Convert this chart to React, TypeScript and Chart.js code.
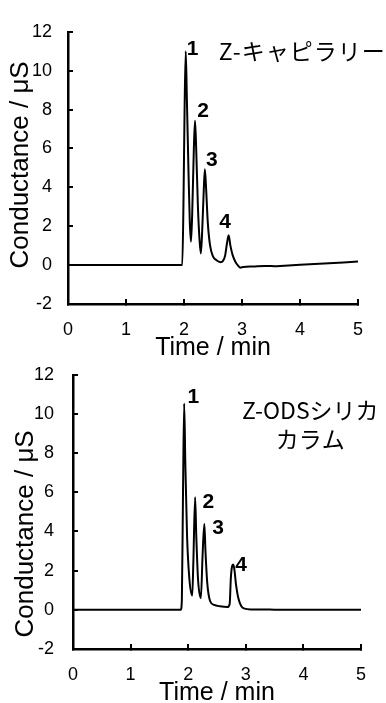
import React, { useEffect, useRef } from "react";
import { Chart, registerables } from "chart.js";

Chart.register(...registerables);

// ---------- data ----------
const X_TICKS = [0, 1, 2, 3, 4, 5];
const Y_TICKS = [-2, 0, 2, 4, 6, 8, 10, 12];
const X_TITLE = "Time / min";
const Y_TITLE = "Conductance / μS";

const topTime = [0, 1.0, 1.97, 1.99, 2.01, 2.03, 2.05, 2.08, 2.10, 2.12, 2.14, 2.17, 2.19, 2.21, 2.24, 2.27, 2.29, 2.31, 2.34, 2.36, 2.38, 2.41, 2.45, 2.50, 2.56, 2.63, 2.67, 2.71, 2.74, 2.77, 2.80, 2.84, 2.89, 2.94, 2.97, 3.02, 3.2, 3.4, 3.6, 3.8, 4.0, 4.5, 5.0];
const topCond = [0, 0, 0, 3.0, 8.0, 11.0, 8.5, 4.5, 2.2, 1.2, 2.5, 6.0, 7.42, 6.0, 3.0, 1.2, 0.6, 1.5, 3.8, 4.93, 4.0, 2.2, 1.0, 0.45, 0.25, 0.15, 0.2, 0.5, 1.1, 1.53, 1.0, 0.5, 0.15, -0.05, -0.13, -0.1, -0.07, -0.04, -0.06, -0.02, 0.02, 0.1, 0.18];

const bottomTime = [0, 1.0, 1.87, 1.89, 1.91, 1.93, 1.95, 1.98, 2.02, 2.07, 2.09, 2.12, 2.14, 2.17, 2.22, 2.25, 2.28, 2.30, 2.33, 2.38, 2.45, 2.55, 2.68, 2.72, 2.74, 2.76, 2.78, 2.80, 2.83, 2.87, 2.92, 2.98, 3.1, 3.5, 4.0, 5.0];
const bottomCond = [0, 0, 0, 0.5, 6.0, 10.53, 7.5, 3.8, 1.6, 0.73, 2.5, 5.75, 3.8, 1.6, 0.6, 2.8, 4.38, 3.0, 1.4, 0.45, 0.25, 0.18, 0.14, 0.3, 1.6, 2.2, 2.31, 2.1, 1.3, 0.6, 0.2, 0.06, 0.02, 0.01, 0, 0];

const peakNames = ["1", "2", "3", "4"];
const topPeakX = [2.15, 2.33, 2.48, 2.71];
const topPeakY = [11.08, 7.92, 5.39, 2.19];
const bottomPeakX = [2.09, 2.35, 2.52, 2.92];
const bottomPeakY = [10.86, 5.47, 4.19, 2.27];

const topColumnLines = ["Z-キャピラリー"];
const topColumnX = 2.6;
const topColumnY = [11.01];
const bottomColumnLines = ["Z-ODSシリカ", "カラム"];
const bottomColumnX = 4.12;
const bottomColumnY = [10.21, 8.72];

// ---------- rendering ----------
const SANS = "'Liberation Sans', Arial, sans-serif";
const JP = "'Noto Sans CJK JP', sans-serif";

type PanelProps = {
  time: number[];
  cond: number[];
  peakX: number[];
  peakY: number[];
  colLines: string[];
  colX: number;
  colY: number[];
  colAlign: CanvasTextAlign;
  colSpacing: string;
  top: number;
  height: number;
  yAxisWidth: number;
  padTop: number;
  padRight: number;
  xAxisHeight: number;
  yTickPad: number;
  yTitleShift: number;
};

function Panel(p: PanelProps) {
  const ref = useRef<HTMLCanvasElement | null>(null);
  useEffect(() => {
    if (!ref.current) return;
    const annot = {
      id: "annot",
      afterDraw(chart: any) {
        const ctx = chart.ctx as CanvasRenderingContext2D;
        const xs = chart.scales.x;
        const ys = chart.scales.y;
        const area = chart.chartArea;
        ctx.save();
        ctx.fillStyle = "#000";
        // peak labels
        ctx.font = `bold 21px ${SANS}`;
        ctx.textAlign = "center";
        ctx.textBaseline = "middle";
        peakNames.forEach((n, i) => {
          ctx.fillText(n, xs.getPixelForValue(p.peakX[i]), ys.getPixelForValue(p.peakY[i]));
        });
        // column name
        ctx.font = `23px ${JP}`;
        ctx.textAlign = p.colAlign;
        (ctx as any).letterSpacing = p.colSpacing;
        p.colLines.forEach((t, i) => {
          ctx.fillText(t, xs.getPixelForValue(p.colX), ys.getPixelForValue(p.colY[i]));
        });
        (ctx as any).letterSpacing = "0px";
        // x title
        ctx.font = `25px ${SANS}`;
        ctx.textAlign = "center";
        ctx.fillText(X_TITLE, (area.left + area.right) / 2, area.bottom + 44);
        // y title
        ctx.font = `26px ${SANS}`;
        ctx.translate(area.left - 47, (area.top + area.bottom) / 2 + p.yTitleShift);
        ctx.rotate(-Math.PI / 2);
        ctx.fillText(Y_TITLE, 0, 0);
        ctx.restore();
      },
    };
    const chart = new Chart(ref.current, {
      type: "line",
      data: {
        datasets: [
          {
            data: p.time.map((t, i) => ({ x: t, y: p.cond[i] })),
            borderColor: "#000",
            borderWidth: 2,
            pointRadius: 0,
            fill: false,
            cubicInterpolationMode: "monotone",
          },
        ],
      },
      options: {
        responsive: false,
        animation: false,
        layout: { padding: { top: p.padTop, right: p.padRight, left: 0, bottom: 0 } },
        plugins: { legend: { display: false }, tooltip: { enabled: false } },
        scales: {
          x: {
            type: "linear",
            min: 0,
            max: 5,
            afterBuildTicks: (s: any) => {
              s.ticks = X_TICKS.map((v) => ({ value: v }));
            },
            afterFit: (s: any) => {
              s.height = p.xAxisHeight;
            },
            ticks: {
              padding: 20,
              color: "#000",
              font: { family: SANS, size: 18 },
              maxRotation: 0,
              autoSkip: false,
            },
            grid: { drawOnChartArea: false, tickLength: -5, color: "#000", lineWidth: 2 },
            border: { display: true, color: "#000", width: 2.5 },
          },
          y: {
            type: "linear",
            min: -2,
            max: 12,
            afterBuildTicks: (s: any) => {
              s.ticks = Y_TICKS.map((v) => ({ value: v }));
            },
            afterFit: (s: any) => {
              s.width = p.yAxisWidth;
            },
            ticks: {
              padding: p.yTickPad,
              color: "#000",
              font: { family: SANS, size: 18 },
              autoSkip: false,
            },
            grid: { drawOnChartArea: false, tickLength: -5, color: "#000", lineWidth: 2 },
            border: { display: true, color: "#000", width: 2.5 },
          },
        },
      } as any,
      plugins: [annot],
    });
    return () => chart.destroy();
  }, []);
  return (
    <canvas
      ref={ref}
      width={386}
      height={p.height}
      style={{ position: "absolute", left: 0, top: p.top, width: 386, height: p.height }}
    />
  );
}

export default function App() {
  return (
    <div style={{ position: "fixed", left: 0, top: 0, width: 386, height: 703, background: "#fff" }}>
      <Panel
        time={topTime}
        cond={topCond}
        peakX={topPeakX}
        peakY={topPeakY}
        colLines={topColumnLines}
        colX={topColumnX}
        colY={topColumnY}
        colAlign="left"
        colSpacing="1px"
        top={0}
        height={360}
        yAxisWidth={68}
        padTop={23}
        padRight={28}
        xAxisHeight={56}
        yTickPad={21}
        yTitleShift={-3}
      />
      <Panel
        time={bottomTime}
        cond={bottomCond}
        peakX={bottomPeakX}
        peakY={bottomPeakY}
        colLines={bottomColumnLines}
        colX={bottomColumnX}
        colY={bottomColumnY}
        colAlign="center"
        colSpacing="0px"
        top={340}
        height={363}
        yAxisWidth={73}
        padTop={28}
        padRight={24}
        xAxisHeight={54}
        yTickPad={24}
        yTitleShift={22}
      />
    </div>
  );
}
